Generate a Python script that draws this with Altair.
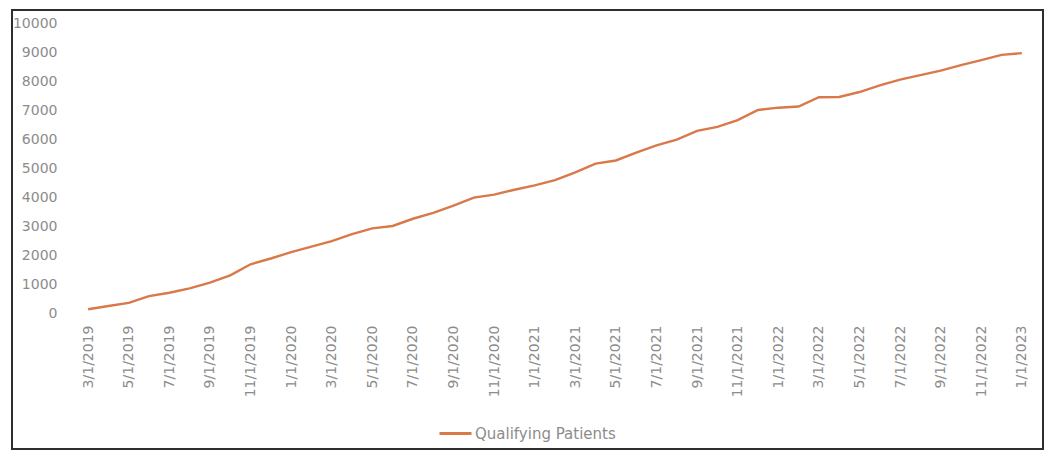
import altair as alt
import pandas as pd

months = [
    "3/1/2019", "4/1/2019", "5/1/2019", "6/1/2019", "7/1/2019", "8/1/2019",
    "9/1/2019", "10/1/2019", "11/1/2019", "12/1/2019",
    "1/1/2020", "2/1/2020", "3/1/2020", "4/1/2020", "5/1/2020", "6/1/2020",
    "7/1/2020", "8/1/2020", "9/1/2020", "10/1/2020", "11/1/2020", "12/1/2020",
    "1/1/2021", "2/1/2021", "3/1/2021", "4/1/2021", "5/1/2021", "6/1/2021",
    "7/1/2021", "8/1/2021", "9/1/2021", "10/1/2021", "11/1/2021", "12/1/2021",
    "1/1/2022", "2/1/2022", "3/1/2022", "4/1/2022", "5/1/2022", "6/1/2022",
    "7/1/2022", "8/1/2022", "9/1/2022", "10/1/2022", "11/1/2022", "12/1/2022",
    "1/1/2023",
]
patients = [
    130, 240, 350, 580, 700, 850, 1050, 1300, 1680, 1880,
    2100, 2290, 2480, 2720, 2920, 3000, 3250, 3450, 3700, 3980, 4080, 4250,
    4400, 4580, 4850, 5150, 5260, 5530, 5780, 5980, 6280, 6420, 6650, 7000,
    7080, 7120, 7440, 7450, 7620, 7850, 8050, 8200, 8360, 8550, 8720, 8900,
    8960,
]
tick_labels = months[::2]
y_ticks = [0, 1000, 2000, 3000, 4000, 5000, 6000, 7000, 8000, 9000, 10000]
series_name = "Qualifying Patients"

df = pd.DataFrame({"Month": months, "Patients": patients, "Series": series_name})

W, H = 954, 290
FONT = "DejaVu Sans"
LABEL_COLOR = "#8c8c8c"

line = alt.Chart(df).mark_line(strokeWidth=2.4).encode(
    x=alt.X(
        "Month:O",
        sort=months,
        scale=alt.Scale(type="point", padding=0.5),
        axis=alt.Axis(
            title=None, values=tick_labels, labelAngle=270, labelPadding=12,
            ticks=False, domain=False, labelFontSize=14, labelFont=FONT,
            labelColor=LABEL_COLOR,
        ),
    ),
    y=alt.Y(
        "Patients:Q",
        scale=alt.Scale(domain=[0, 10000], nice=False),
        axis=alt.Axis(
            title=None, values=y_ticks, format="d", grid=False, ticks=False,
            domain=False, labelPadding=21, labelFontSize=14, labelFont=FONT,
            labelColor=LABEL_COLOR,
        ),
    ),
    color=alt.Color(
        "Series:N",
        scale=alt.Scale(range=["#D9794A"]),
        legend=alt.Legend(
            title=None, orient="none", legendX=360, legendY=393,
            symbolType="stroke", symbolSize=1024, symbolStrokeWidth=3,
            labelFontSize=15, labelFont=FONT, labelColor=LABEL_COLOR,
            labelOffset=2,
        ),
    ),
)

frame = alt.Chart(df).mark_rect(
    fill=None, stroke="#2f2f2f", strokeWidth=1.6
).encode(
    x=alt.value(-66), x2=alt.value(965), y=alt.value(-13), y2=alt.value(426)
)

chart = alt.layer(line, frame).properties(
    width=W, height=H,
    padding={"left": 70, "top": 15, "right": 21, "bottom": 139},
    autosize=alt.AutoSizeParams(type="none"),
).configure(background="white").configure_view(stroke=None)

chart.save("out.html", embed_options={"renderer": "svg", "actions": False})
